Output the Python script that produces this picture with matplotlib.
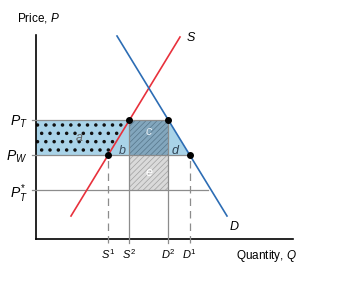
import numpy as np
import matplotlib
matplotlib.use("Agg")
import matplotlib.pyplot as plt
from matplotlib.patches import Polygon, Rectangle

plt.rcParams['font.family']= ['Liberation Sans', 'DejaVu Sans']
plt.rcParams['mathtext.fontset']= 'custom'
plt.rcParams['mathtext.rm']= 'Liberation Sans'
plt.rcParams['mathtext.it']= 'Liberation Sans:italic'
plt.rcParams['hatch.linewidth']= 0.5

# schematic values
supply_q= [35, 144]
supply_p= [23, 202]
demand_q= [81, 191]
demand_p= [203, 23]
price_world= 84
price_tariff= 119
price_tstar= 49
y_labels= [r'$P_T$', r'$P_W$', r'$P_T^{\!*}$']
x_labels= [r'$S^1$', r'$S^2$', r'$D^2$', r'$D^1$']
area_labels= ['a', 'b', 'c', 'd', 'e']

def q_supply(p):
    return np.interp(p, supply_p, supply_q)

def q_demand(p):
    return np.interp(p, demand_p[::-1], demand_q[::-1])

s1= q_supply(price_world)
s2= q_supply(price_tariff)
d2= q_demand(price_tariff)
d1= q_demand(price_world)

red= '#e8313c'
blue= '#2d6db4'
grey= '#8c8c8c'
light_blue= '#a9d3e8'

fig= plt.figure(figsize=(3.59, 2.86), dpi=100)
ax= fig.add_axes([36/359, 47/286, 257/359, 204/286])
ax.set_xlim(0, 257)
ax.set_ylim(0, 204)

# blue region between P_W and P_T up to demand
ax.add_patch(Polygon([(0, price_world), (d1, price_world), (d2, price_tariff), (0, price_tariff)],
                     facecolor=light_blue, edgecolor='none', zorder=1))
# dotted area a
dots= Polygon([(0, price_world), (s1, price_world), (s2, price_tariff), (0, price_tariff)],
              facecolor='none', edgecolor='#111111', lw=0, hatch='..', zorder=2)
ax.add_patch(dots)
if hasattr(dots, 'set_hatch_linewidth'):
    dots.set_hatch_linewidth(1.3)
# c and e
ax.add_patch(Rectangle((s2, price_world), d2-s2, price_tariff-price_world,
                       facecolor='#82a6bd', edgecolor='#56768a', lw=0, hatch='//////', zorder=2))
ax.add_patch(Rectangle((s2, price_tstar), d2-s2, price_world-price_tstar,
                       facecolor='#dadada', edgecolor='#a0a0a0', lw=0, hatch='//////', zorder=2))

# guide lines
ax.plot([-4, d2], [price_tariff]*2, color=grey, lw=0.9, clip_on=False, zorder=3)
ax.plot([-4, d1], [price_world]*2, color=grey, lw=0.9, clip_on=False, zorder=3)
ax.plot([-4, q_demand(price_tstar)-3], [price_tstar]*2, color=grey, lw=0.9, clip_on=False, zorder=3)
for q in [s2, d2]:
    ax.plot([q, q], [-4, price_tariff], color=grey, lw=0.9, clip_on=False, zorder=3)
for q in [s1, d1]:
    ax.plot([q, q], [-4, price_world], color=grey, lw=0.9, ls=(0, (6, 4)), clip_on=False, zorder=3)

# supply and demand
ax.plot(supply_q, supply_p, color=red, lw=1.2, zorder=4)
ax.plot(demand_q, demand_p, color=blue, lw=1.2, zorder=4)
ax.plot([s1, s2, d2, d1], [price_world, price_tariff, price_tariff, price_world],
        'o', color='k', ms=4, zorder=5)

ax.spines['top'].set_visible(False)
ax.spines['right'].set_visible(False)
ax.spines['left'].set_linewidth(1.2)
ax.spines['bottom'].set_linewidth(1.2)
ax.set_yticks([price_tariff, price_world, price_tstar], y_labels, fontsize=10)
ax.set_xticks([s1, s2, d2, d1], x_labels, fontsize=8)
ax.tick_params(length=0, pad=6)

ax.text(-19, 221, 'Price, $P$', fontsize=8.5, ha='left', va='center', clip_on=False)
ax.text(200, -17, 'Quantity, $Q$', fontsize=8.5, ha='left', va='center', clip_on=False)
ax.text(150, 201, '$S$', fontsize=9, ha='left', va='center')
ax.text(193, 12, '$D$', fontsize=9, ha='left', va='center')

area_pos= [(43, 101), (86, 89), (113, 107), (140, 89), (113, 66)]
area_col= ['#666666', '#3b4b5c', '#e4edf3', '#2f4252', 'white']
for lab, (x, y), c in zip(area_labels, area_pos, area_col):
    ax.text(x, y, '$' + lab + '$', fontsize=9, color=c, ha='center', va='center', zorder=6)

fig.savefig('out.png', dpi=100)
